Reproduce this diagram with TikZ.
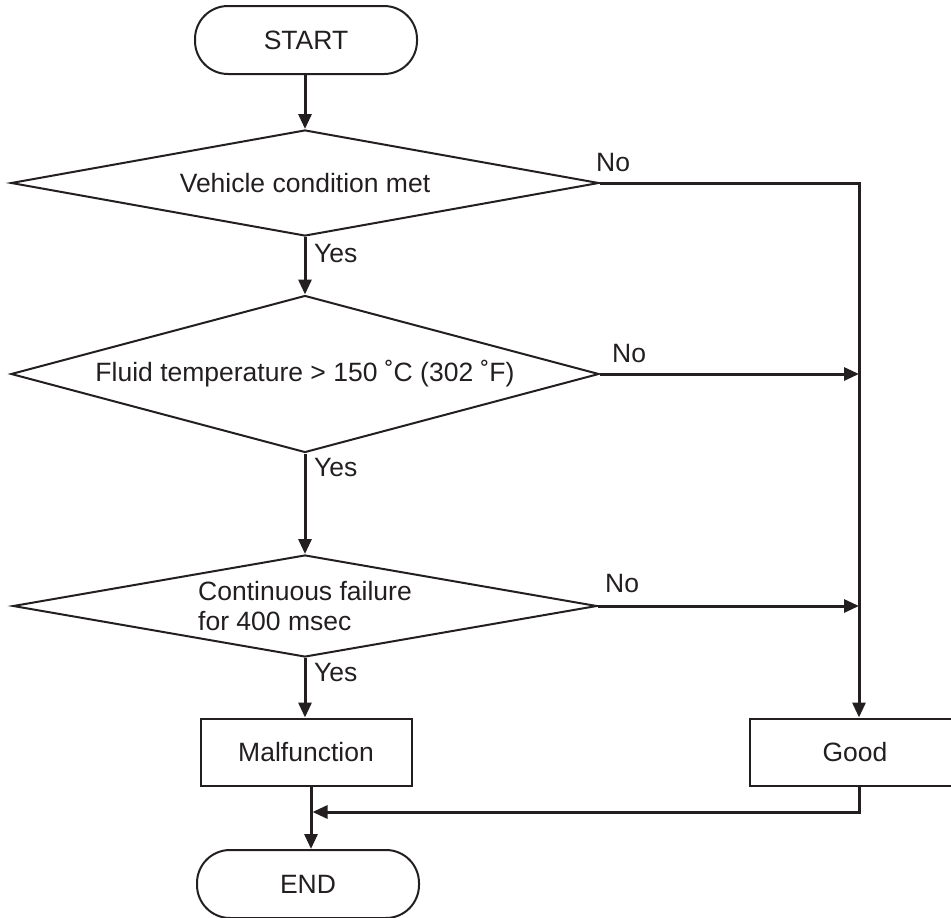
\documentclass[tikz,border=0pt]{standalone}
\usepackage{fontspec}
\setmainfont{Liberation Sans}
\usetikzlibrary{shapes.geometric,arrows.meta}
\definecolor{ink}{HTML}{231F20}
\begin{document}
\begin{tikzpicture}[x=1pt,y=-1pt,
  every node/.style={text=ink, font=\fontsize{26.5}{30}\selectfont},
  shape line/.style={draw=ink, line width=2pt},
  terminal/.style={shape line, rectangle, rounded corners=33pt, minimum width=222pt, minimum height=68pt, inner sep=0pt},
  decision/.style={shape line, diamond, inner sep=0pt},
  process/.style={shape line, rectangle, minimum height=67pt, inner sep=0pt},
  flow/.style={draw=ink, line width=3pt},
  flowarrow/.style={flow, -{Triangle[length=15pt,width=13pt]}},
  lbl/.style={anchor=west, inner sep=0pt},
]
\useasboundingbox (0,0) rectangle (951,918);
\clip (0,0) rectangle (951,918);

% shapes
\node[terminal] (start) at (306,40) {START};
\node[decision, aspect=5.5, minimum width=588pt, minimum height=106pt] (d1) at (305,183) {Vehicle condition met};
\node[decision, aspect=3.75, minimum width=588pt, minimum height=157pt] (d2) at (305,374) {Fluid temperature > 150 ˚C (302 ˚F)};
\node[decision, aspect=5.7, minimum width=584pt, minimum height=102pt, align=left] (d3) at (305,606) {Continuous failure\\for 400 msec};
\node[process, minimum width=211pt] (malf) at (306,752) {Malfunction};
\node[process, minimum width=230pt] (good) at (865,752) {};
\node[anchor=center] (goodtext) at (855,752) {Good};
\node[terminal] (endn) at (308,884) {END};

% helper points for the right rail and the merge point
\coordinate (rail) at (859,0);
\coordinate (join) at (311,812);

% main path
\draw[flowarrow] (start.south -| d1.north) -- (d1.north);
\draw[flowarrow] (d1.south) -- (d2.north);
\draw[flowarrow] (d2.south) -- (d3.north);
\draw[flowarrow] (d3.south) -- (d3.south |- malf.north);
\draw[flowarrow] (join |- malf.south) -- (join |- endn.north);

% "No" branches to the right rail
\draw[flowarrow] (d1.east) -- (d1.east -| rail) -- (rail |- good.north);
\draw[flowarrow] (d2.east) -- (d2.east -| rail);
\draw[flowarrow] (d3.east) -- (d3.east -| rail);
\draw[flowarrow, shorten >=1.5pt] (rail |- good.south) -- (rail |- join) -- (join);

% branch labels
\node[lbl] (no1) at (596,163) {No};
\node[lbl] (no2) at (612,354) {No};
\node[lbl] (no3) at (605,584) {No};
\node[lbl] (yes1) at (314,254) {Yes};
\node[lbl] (yes2) at (314,468) {Yes};
\node[lbl] (yes3) at (314,673) {Yes};
\end{tikzpicture}
\end{document}
